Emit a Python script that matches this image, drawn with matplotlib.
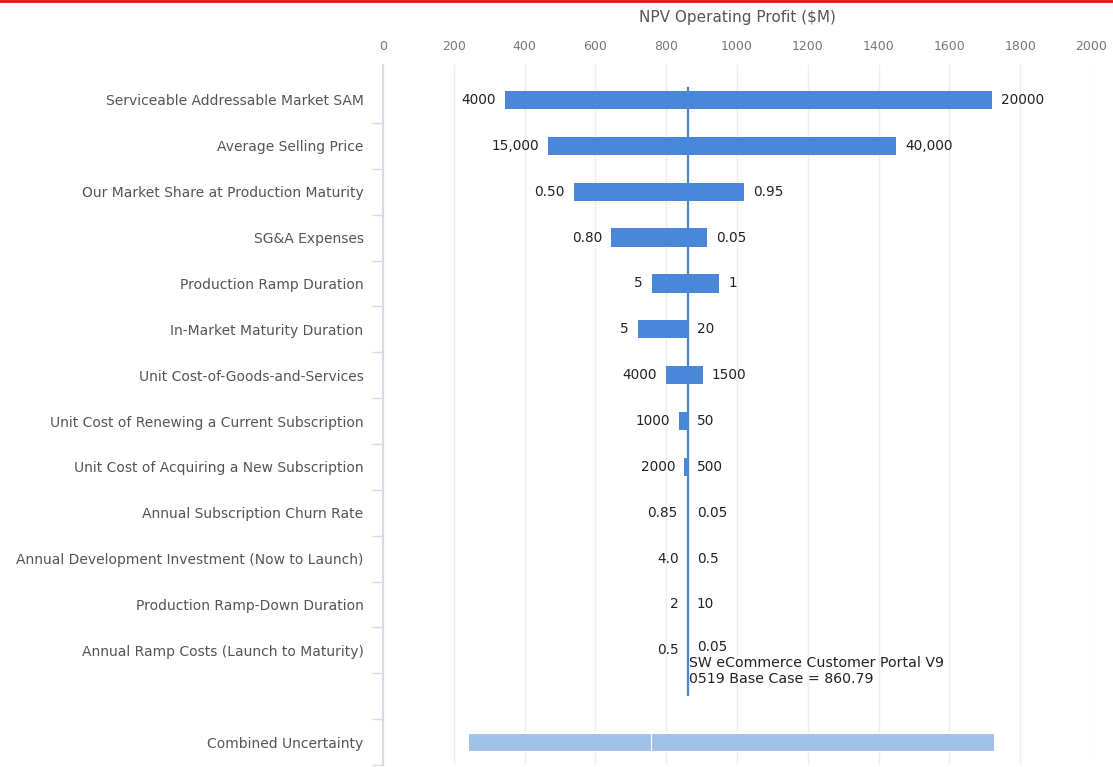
import numpy as np
import matplotlib.pyplot as plt
from matplotlib.lines import Line2D

# tornado chart data (NPV operating profit, $M)
categories = ['Serviceable Addressable Market SAM', 'Average Selling Price',
              'Our Market Share at Production Maturity', 'SG&A Expenses',
              'Production Ramp Duration', 'In-Market Maturity Duration',
              'Unit Cost-of-Goods-and-Services', 'Unit Cost of Renewing a Current Subscription',
              'Unit Cost of Acquiring a New Subscription', 'Annual Subscription Churn Rate',
              'Annual Development Investment (Now to Launch)', 'Production Ramp-Down Duration',
              'Annual Ramp Costs (Launch to Maturity)']
low_vals = [345, 467, 539, 644, 759, 720, 799, 836, 851, 858, 860.79, 860.79, 860.79]
high_vals = [1721, 1450, 1019, 915, 950, 860.79, 903, 860.79, 860.79, 860.79, 860.79, 860.79, 860.79]
low_labels = ['4000', '15,000', '0.50', '0.80', '5', '5', '4000', '1000', '2000', '0.85', '4.0', '2', '0.5']
high_labels = ['20000', '40,000', '0.95', '0.05', '1', '20', '1500', '50', '500', '0.05', '0.5', '10', '0.05']
base_case = 860.79
combined_low, combined_mid, combined_high = 239, 756, 1727
x_ticks = [0, 200, 400, 600, 800, 1000, 1200, 1400, 1600, 1800, 2000]

bar_blue = '#4a87d8'
light_blue = '#a2c1e9'

fig = plt.figure(figsize=(11.13, 7.67), dpi=100)
ax = fig.add_axes([383/1113, 2/767, (1091-383)/1113, (765-65)/767])

y = np.arange(len(categories))
lefts = np.minimum(low_vals, high_vals)
widths = np.abs(np.array(high_vals) - np.array(low_vals))
ax.barh(y, widths, left=lefts, height=0.4, color=bar_blue, zorder=2)

# combined uncertainty row, after an empty slot
yc = len(categories) + 1
ax.barh(yc, combined_mid - combined_low, left=combined_low, height=0.4, color=light_blue,
        edgecolor='white', linewidth=0.8, zorder=2)
ax.barh(yc, combined_high - combined_mid, left=combined_mid, height=0.4, color=light_blue,
        edgecolor='white', linewidth=0.8, zorder=2)

# value labels either side of each bar
px = 2.826  # data units per pixel
for i in range(len(categories)):
    ax.text(min(low_vals[i], high_vals[i]) - 9*px, y[i], low_labels[i], ha='right', va='center',
            fontsize=9.8, color='#222222', zorder=3)
    ax.text(max(low_vals[i], high_vals[i]) + 9*px, y[i] - 0.08 * (i == 12), high_labels[i],
            ha='left', va='center', fontsize=9.8, color='#222222', zorder=3)

# base case line
ax.plot([base_case, base_case], [-0.26, 12.98], color=bar_blue, lw=1.6, zorder=4)
ax.text(base_case + 1*px, 12.12, 'SW eCommerce Customer Portal V9\n0519 Base Case = 860.79',
        ha='left', va='top', fontsize=10.2, color='#222222', linespacing=1.2, zorder=5)

ax.set_xlim(0, 2000)
ax.set_ylim(len(categories) + 1.5, -0.763)
ax.xaxis.tick_top()
ax.xaxis.set_label_position('top')
ax.set_xticks(x_ticks)
ax.set_xticklabels([str(t) for t in x_ticks], fontsize=9, color='#777777')
ax.tick_params(axis='x', length=0, pad=9)
ax.set_xlabel('NPV Operating Profit ($M)', fontsize=11, color='#555555', labelpad=12.5)

ax.set_yticks(list(y) + [yc - 1, yc])
ax.set_yticklabels(categories + ['', 'Combined Uncertainty'], fontsize=10, color='#555555')
ax.set_yticks(np.arange(0.5, yc + 1, 1.0), minor=True)
ax.tick_params(axis='y', which='major', length=0, pad=14)
ax.tick_params(axis='y', which='minor', length=8, color='#d6dae2', width=1)

ax.grid(axis='x', color='#eeeeee', lw=1, zorder=0)
for s in ['top', 'right', 'bottom']:
    ax.spines[s].set_visible(False)
ax.spines['left'].set_color('#d6dae2')
ax.spines['left'].set_linewidth(1.5)

# red line across top edge
fig.add_artist(Line2D([0, 1], [0.999, 0.999], color='#dd1111', lw=2, transform=fig.transFigure))

plt.savefig('out.png', dpi=100)
